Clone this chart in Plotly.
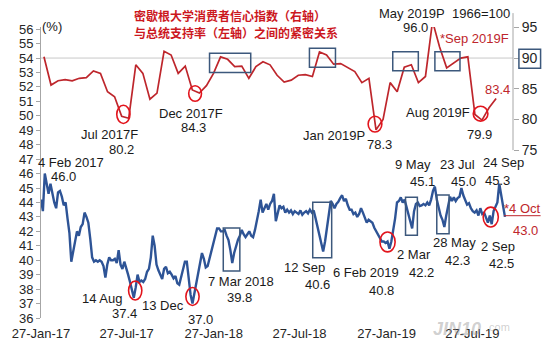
import plotly.graph_objects as go
import pandas as pd

FONT = "Liberation Sans, Arial, sans-serif"
CJK = "Noto Sans CJK SC, sans-serif"

# ---------------- data ----------------
# Presidential approval (%), left axis, sampled every 4 days from 27 Jan 2017 to 4 Oct 2019
approval_start = "2017-01-27"
approval_step = "4D"
approval = [
    44.2, 43.4, 46.0, 45.2, 44.6, 45.3, 44.5, 44.0, 43.6, 44.7,
    44.8, 44.4, 43.8, 44.0, 42.9, 41.9, 39.9, 40.6, 41.5, 42.0,
    41.7, 42.3, 42.5, 43.3, 43.0, 42.6, 41.5, 40.2, 39.9, 40.0,
    39.9, 40.0, 39.9, 39.6, 38.8, 39.7, 40.2, 40.0, 40.0, 40.1,
    39.8, 40.7, 39.7, 39.4, 39.9, 39.5, 39.0, 38.5, 37.9, 37.4,
    38.1, 39.0, 38.5, 38.6, 38.5, 38.7, 39.2, 39.4, 40.2, 41.7,
    41.0, 39.7, 39.3, 39.0, 38.7, 39.4, 39.55, 39.1, 39.2, 39.0,
    38.75, 38.9, 38.4, 38.3, 38.8, 39.2, 39.9, 39.9, 38.7, 37.6,
    37.0, 37.7, 38.3, 38.9, 39.7, 40.5, 40.1, 39.5, 39.6, 40.1,
    40.6, 41.1, 41.7, 42.2, 42.2, 42.0, 42.0, 42.1, 41.7, 41.4,
    40.7, 39.8, 40.5, 41.0, 41.4, 41.7, 42.1, 41.8, 41.6, 41.8,
    42.0, 41.7, 41.6, 42.1, 42.7, 43.4, 44.2, 43.3, 43.6, 43.9,
    43.5, 43.9, 44.1, 44.6, 42.7, 43.3, 43.8, 43.6, 43.7, 43.3,
    43.5, 43.3, 43.45, 43.2, 43.4, 43.3, 43.2, 43.45, 43.15, 43.3,
    43.4, 43.25, 43.5, 43.3, 43.45, 42.9, 42.3, 41.9, 41.15, 40.6,
    41.3, 42.3, 43.5, 44.1, 43.9, 43.6, 43.9, 44.05, 44.3, 44.5,
    44.1, 44.25, 43.8, 43.5, 43.5, 43.2, 43.3, 43.0, 43.2, 43.6,
    43.3, 43.0, 42.6, 42.8, 42.7, 42.6, 42.25, 42.0, 41.85, 41.55,
    41.3, 41.3, 41.2, 41.3, 40.8, 41.3, 42.0, 42.9, 44.0, 44.1,
    44.35, 44.0, 44.2, 43.7, 43.0, 42.5, 42.2, 43.4, 43.9, 44.0,
    43.75, 43.8, 43.9, 43.8, 44.0, 43.8, 44.2, 44.8, 45.1, 44.2,
    43.6, 43.1, 42.8, 42.3, 43.1, 43.8, 44.4, 44.1, 44.35, 44.1,
    44.3, 44.4, 45.0, 44.5, 44.1, 43.85, 43.95, 43.6, 43.4, 43.3,
    43.45, 43.1, 43.6, 43.2, 43.3, 43.0, 42.6, 43.1, 42.5, 43.4,
    43.7, 44.0, 45.3, 44.5, 43.9, 43.0,
]
approval_dates = pd.date_range(approval_start, periods=len(approval), freq=approval_step)

# University of Michigan consumer index (1966=100), right axis, preliminary/final readings
survey_months = pd.period_range("2017-01", "2019-09", freq="M")
survey_periods = ["Jan 2017F"]
for _m in survey_months[1:]:
    _tag = _m.strftime("%b %Y")
    survey_periods += [_tag + "P", _tag + "F"]
sentiment = [
    90.2, 85.6, 86.3, 86.5, 86.3, 86.7, 86.8, 87.9, 87.5, 84.5,
    83.7, 80.5, 80.2, 88.9, 87.5, 83.3, 84.3, 91.1, 90.5, 87.5,
    88.7, 84.8, 84.3, 85.5, 87.5, 90.2, 89.8, 88.6, 88.7, 86.7,
    88.6, 89.4, 88.9, 87.2, 86.1, 86.4, 87.2, 87.3, 87.0, 91.0,
    90.5, 89.0, 89.1, 88.5, 87.8, 86.0, 86.7, 78.3, 80.0, 86.0,
    84.5, 88.5, 88.9, 86.0, 87.0, 96.0, 91.8, 88.4, 89.2, 90.0,
    90.2, 80.8, 79.9, 81.9, 83.4,
]

x_tick_vals = ["2017-01-27", "2017-07-27", "2018-01-27", "2018-07-27", "2019-01-27", "2019-07-27"]
x_tick_text = ["27-Jan-17", "27-Jul-17", "27-Jan-18", "27-Jul-18", "27-Jan-19", "27-Jul-19"]
left_ticks = list(range(36, 57))
right_ticks = [75, 80, 85, 90, 95]

# ---------------- geometry helpers (label placement) ----------------
W, H = 550, 353
ML, MR, MT, MB = 40, 31, 27, 33
PW, PH = W - ML - MR, H - MT - MB


def fx(x):
    return (x - ML) / PW


def fy(y):
    return (MT + PH - y) / PH


BLUE = "rgb(46,84,150)"
RED = "rgb(190,38,44)"
CIRCLE = "rgb(226,20,28)"
BOX = "rgb(60,88,124)"
AXIS = "#a6a6a6"
TXT = "#1a1a1a"

fig = go.Figure()
fig.add_trace(go.Scatter(x=approval_dates, y=approval, mode="lines",
                         line=dict(color=BLUE, width=2.4), xaxis="x", yaxis="y"))
fig.add_trace(go.Scatter(x=survey_periods, y=sentiment, mode="lines",
                         line=dict(color=RED, width=1.7), xaxis="x2", yaxis="y2"))

shapes = []
# reference line 54 (left) / 90 (right)
shapes.append(dict(type="line", xref="paper", yref="y", x0=0, x1=1, y0=54, y1=54,
                   line=dict(color="#c8c8c8", width=1), layer="below"))
# right axis line
shapes.append(dict(type="line", xref="paper", yref="paper", x0=1, x1=1, y0=fy(13), y1=fy(151),
                   line=dict(color=AXIS, width=1)))

# red circles on approval (left axis)
for x0, x1, y0, y1 in [("2017-07-31", "2017-08-28", 37.25, 38.55),
                       ("2017-11-29", "2017-12-27", 36.87, 38.11),
                       ("2019-01-13", "2019-02-14", 40.58, 41.96),
                       ("2019-08-19", "2019-09-20", 42.30, 43.68)]:
    shapes.append(dict(type="circle", xref="x", yref="y", x0=x0, x1=x1, y0=y0, y1=y1,
                       line=dict(color=CIRCLE, width=1.6)))
# red circles on consumer index (right axis)
for x0, x1, y0, y1 in [("2017-07-06", "2017-08-03", 79.35, 82.31),
                       ("2017-12-05", "2018-01-01", 82.96, 85.49),
                       ("2018-12-19", "2019-01-17", 77.95, 80.53),
                       ("2019-07-29", "2019-08-29", 79.73, 82.15)]:
    shapes.append(dict(type="circle", xref="x", yref="y2", x0=x0, x1=x1, y0=y0, y1=y1,
                       line=dict(color=CIRCLE, width=1.6)))
# boxes on approval
for x0, x1, y0, y1 in [("2018-02-16", "2018-03-23", 39.25, 42.23),
                       ("2018-08-24", "2018-10-03", 40.17, 44.02),
                       ("2019-03-08", "2019-04-02", 41.73, 44.36),
                       ("2019-05-13", "2019-06-08", 41.84, 44.52)]:
    shapes.append(dict(type="rect", xref="x", yref="y", x0=x0, x1=x1, y0=y0, y1=y1,
                       line=dict(color=BOX, width=1.5)))
# boxes on consumer index
for x0, x1, y0, y1 in [("2018-01-18", "2018-04-15", 87.64, 90.78),
                       ("2018-08-17", "2018-10-11", 88.51, 91.58),
                       ("2019-02-09", "2019-04-04", 87.92, 91.03),
                       ("2019-05-09", "2019-07-01", 87.92, 91.03)]:
    shapes.append(dict(type="rect", xref="x", yref="y2", x0=x0, x1=x1, y0=y0, y1=y1,
                       line=dict(color=BOX, width=1.5)))
# box around right tick "90"
shapes.append(dict(type="rect", xref="paper", yref="paper", x0=fx(525), x1=fx(547),
                   y0=fy(68.5), y1=fy(49.5), line=dict(color=BOX, width=1.5)))
# red leader for latest approval value
shapes.append(dict(type="line", xref="paper", yref="paper", x0=fx(510), x1=fx(547),
                   y0=fy(217), y1=fy(217), line=dict(color=RED, width=1)))

annotations = []


def label(text, cx, cy, color=TXT, size=13, family=FONT, xanchor="center"):
    annotations.append(dict(text=text, x=fx(cx), y=fy(cy), xref="paper", yref="paper",
                            showarrow=False, xanchor=xanchor, yanchor="middle",
                            font=dict(family=family, size=size, color=color)))


label("(%)", 51, 26)
label("4 Feb 2017", 70, 163)
label("46.0", 63, 177.5)
label("14 Aug", 102, 300)
label("37.4", 125, 315)
label("13 Dec", 164, 307.7)
label("37.0", 202, 321.7)
label("7 Mar 2018", 243, 283.5)
label("39.8", 241, 299)
label("12 Sep", 307.5, 269)
label("40.6", 321, 286)
label("6 Feb 2019", 370, 274)
label("40.8", 385.5, 292.5)
label("2 Mar", 419, 256)
label("42.2", 426, 274.5)
label("28 May", 460, 243.5)
label("42.3", 463, 261.7)
label("2 Sep", 503.5, 248)
label("42.5", 507.5, 265)
label("9 May", 418, 165)
label("45.1", 426.7, 183)
label("23 Jul", 462.5, 165)
label("45.0", 469, 183)
label("24 Sep", 509.5, 163)
label("45.3", 503, 181.7)
label("*4 Oct", 529, 210, color=RED)
label("43.0", 531.7, 231.7, color=RED)
label("Jul 2017F", 110, 135)
label("80.2", 121.7, 150)
label("Dec 2017F", 192, 114)
label("84.3", 195, 128)
label("Jan 2019P", 337, 136.7)
label("78.3", 383.7, 145)
label("May 2019P", 416, 13)
label("1966=100", 487, 13)
label("96.0", 420.5, 28)
label("*Sep 2019F", 480, 38.5, color=RED)
label("83.4", 503.7, 90, color=RED)
label("Aug 2019F", 443.3, 113.3)
label("79.9", 484.7, 135)
# title
label("<b>密歇根大学消费者信心指数（右轴）</b>", 132, 15, color="rgb(204,24,30)", size=12,
      family=CJK, xanchor="left")
label("<b>与总统支持率（左轴）之间的紧密关系</b>", 132, 33, color="rgb(204,24,30)", size=12,
      family=CJK, xanchor="left")
# watermark
label("<b><i>JIN10</i></b>", 462, 331, color="rgba(150,150,150,0.45)", size=18)
label(".com", 504, 329, color="rgba(150,150,150,0.45)", size=11)

fig.update_layout(
    width=W, height=H,
    margin=dict(l=ML, r=MR, t=MT, b=MB, pad=0),
    paper_bgcolor="white", plot_bgcolor="white",
    showlegend=False,
    font=dict(family=FONT, size=13, color="#262626"),
    xaxis=dict(type="date", range=["2017-01-27", "2019-10-21"], tickvals=x_tick_vals,
               ticktext=x_tick_text, showgrid=False, zeroline=False, showline=False,
               ticks="", ticklabelstandoff=6, tickfont=dict(size=13, color="#262626")),
    xaxis2=dict(type="category", overlaying="x", anchor="y2", range=[-0.418, 66.39],
                visible=False, showgrid=False),
    yaxis=dict(range=[36, 56.15], tickvals=left_ticks, showgrid=False, zeroline=False,
               showline=True, linecolor=AXIS, linewidth=1, ticks="outside", ticklen=4,
               tickcolor=AXIS, tickfont=dict(size=13, color="#262626")),
    yaxis2=dict(overlaying="y", side="right", anchor="x2", range=[47.65, 95.06],
                tickvals=right_ticks, showgrid=False, zeroline=False, showline=False,
                ticks="outside", ticklen=5, tickcolor=AXIS,
                tickfont=dict(size=14, color="#262626")),
    shapes=shapes,
    annotations=annotations,
)

fig.write_html("out.html")
